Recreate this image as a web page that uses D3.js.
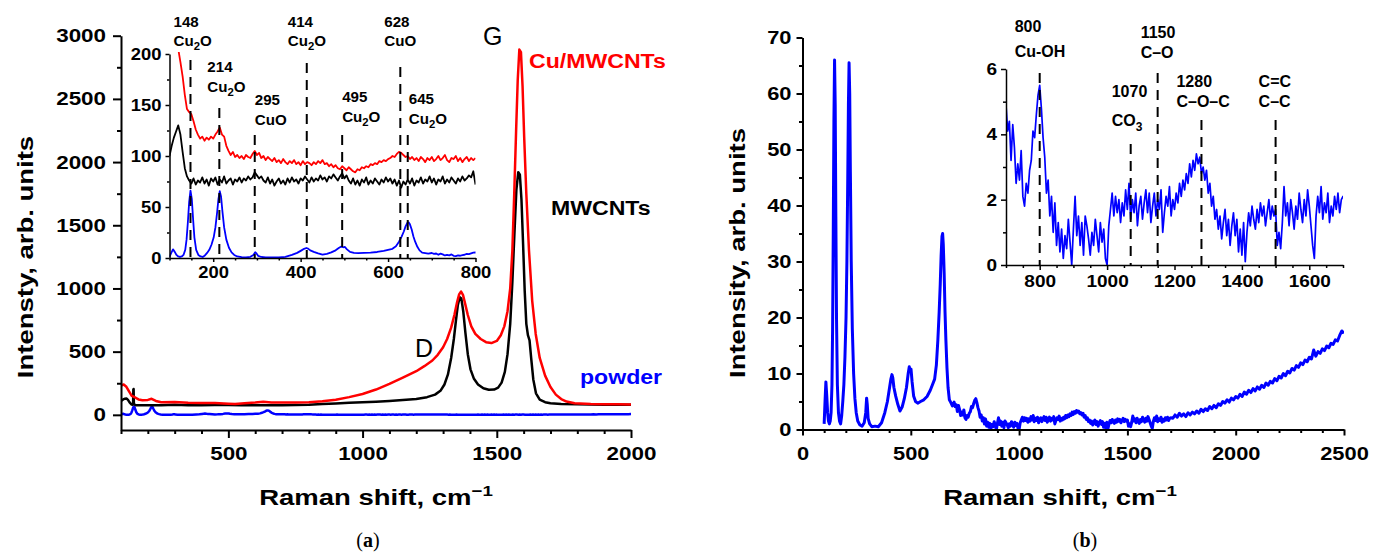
<!DOCTYPE html>
<html>
<head>
<meta charset="utf-8">
<script src="https://cdnjs.cloudflare.com/ajax/libs/d3/7.8.5/d3.min.js"></script>
<style>
  body { margin: 0; background: #fff; }
  svg { display: block; }
</style>
</head>
<body>
<div id="container"></div>
<script>
/* DATA */

// (a) main spectra, [Raman shift cm-1, intensity]
const cuMwcntA = [
  [100,232],[110,240],[120,222],[130,185],[140,150],[150,141],[165,122],[180,116],[200,118],[214,127],
  [230,110],[250,100],[300,102],[350,96],[400,93],[450,94],[500,88],[525,85],[560,91],[600,97],
  [630,103],[660,97],[700,98],[750,98],[800,100],[850,108],[900,120],[950,140],[1000,165],[1050,200],
  [1100,245],[1150,295],[1200,345],[1230,385],[1260,430],[1280,475],[1300,535],[1315,600],[1330,690],[1342,790],
  [1352,890],[1360,955],[1367,975],[1374,950],[1382,880],[1392,790],[1405,700],[1420,640],[1440,600],[1460,575],
  [1480,568],[1500,585],[1515,630],[1528,700],[1540,820],[1550,1000],[1558,1300],[1565,1750],[1572,2250],[1578,2650],
  [1584,2890],[1590,2870],[1596,2600],[1602,2200],[1610,1750],[1620,1300],[1632,900],[1645,640],[1660,450],[1680,310],
  [1700,220],[1720,160],[1740,125],[1760,105],[1790,92],[1850,86],[1900,84],[1950,83],[2000,82]
];
const mwcntA = [
  [100,110],[108,122],[115,128],[120,130],[126,118],[132,98],[138,84],[143,80],[145,82],[146,200],
  [147,205],[148,85],[155,76],[200,76],[250,76],[300,80],[350,76],[400,76],[450,78],[500,78],
  [550,75],[600,75],[650,76],[700,76],[750,78],[800,80],[850,85],[900,90],[950,95],[1000,100],
  [1050,104],[1100,110],[1150,118],[1200,126],[1240,140],[1270,160],[1290,190],[1305,240],[1318,320],[1330,450],
  [1340,600],[1348,750],[1355,870],[1362,930],[1368,920],[1375,820],[1383,650],[1392,480],[1402,360],[1415,285],
  [1430,240],[1450,210],[1470,198],[1490,200],[1505,215],[1518,255],[1530,340],[1540,480],[1550,720],[1558,1050],
  [1566,1450],[1573,1780],[1580,1920],[1586,1900],[1592,1700],[1598,1350],[1604,980],[1610,720],[1616,630],[1622,590],
  [1628,450],[1636,280],[1646,170],[1660,120],[1680,100],[1700,92],[1740,86],[1800,84],[1900,80],[2000,80]
];

// inset of (a): 100-800 cm-1, every 5 cm-1
const insetAShift = d3.range(100, 801, 5);
const insetCuMwcnt = [
  240,236,232,222,205,192,178,160,146,143,
  141,134,126,121,117,119,115,118,116,119,
  117,121,124,128,121,119,110,105,101,104,
  99,101,98,100,97,101,99,98,102,105,
  101,103,98,100,96,99,97,95,98,94,
  96,93,97,94,92,95,93,96,92,94,
  91,95,92,94,93,91,94,92,95,93,
  96,92,93,90,92,89,91,88,87,90,
  88,86,89,87,85,84,87,86,89,88,
  90,89,92,91,93,92,95,94,96,95,
  97,98,100,99,102,104,103,101,99,100,
  97,99,96,98,95,99,97,94,98,96,
  99,95,97,100,96,98,101,96,94,98,
  97,100,95,98,94,97,99,95,98,96,
  98
];
const insetMwcnt = [
  100,110,118,124,130,121,104,88,80,76,
  73,78,72,76,74,79,73,77,71,78,
  75,79,72,77,74,80,73,76,78,72,
  77,75,79,74,78,76,80,77,79,84,
  81,78,80,76,74,79,73,77,71,75,
  78,73,76,72,78,74,79,75,77,73,
  78,76,80,77,74,79,75,78,76,81,
  77,79,75,80,78,82,79,76,80,83,
  78,81,76,73,78,72,76,71,77,74,
  79,72,76,73,78,75,72,77,74,79,
  75,78,73,77,71,76,69,75,72,77,
  73,78,71,76,74,79,73,77,75,80,
  74,78,72,77,75,80,73,77,74,79,
  76,73,78,75,80,76,78,81,79,85,
  72
];

// powder spectrum (blue in (a), whole of (b)), [shift, intensity], 100-692
const powderLow = [
  [100,1],[104,5],[108,8.5],[112,6],[116,3],[120,1.5],[124,1],[128,1.5],[132,3],[136,8],
  [139,18],[142,35],[145,55],[148,66],[151,58],[154,38],[157,20],[161,8],[166,3],[171,1.5],
  [176,1],[181,2.5],[186,5],[191,8],[196,13],[201,20],[205,30],[209,45],[212,58],[215,65.5],
  [218,60],[221,46],[225,30],[230,18],[236,10],[242,5.5],[248,3],[255,1.5],[265,0.8],[275,0.6],
  [285,1.2],[292,3],[296,5.6],[299,4.5],[303,2],[310,1],[320,0.5],[335,0.6],[350,0.5],[365,1.2],
  [380,3],[392,5],[402,7.5],[408,9],[413,9.8],[417,9.2],[422,7.5],[430,6],[440,4.5],[450,3.3],
  [460,4],[470,5.5],[480,7.5],[488,10],[493,11.2],[497,10.5],[501,10.8],[506,8.5],[513,6],[522,5],
  [532,4.7],[545,5],[560,5.3],[575,5.9],[590,7],[600,8],[610,9],[618,11.5],[625,16],[631,21],
  [636,26],[640,31],[644,34.5],[647,35],[650,33],[654,28],[658,21],[662,16],[667,11],[672,7.5],
  [678,5.3],[685,4.8],[692,4.2]
];
// powder 700-1700, every 5 cm-1 (inset of (b))
const powderMidShift = d3.range(700, 1701, 5);
const powderMid = [
  4.9,4.1,4.4,3.2,4.3,3.6,2.5,3.1,2.6,3.5,
  2.1,1.8,2.5,2.2,2.9,3.2,4.1,3.9,4.6,5.2,
  5.5,4.8,3.9,3.3,2.2,2.6,1.5,2.1,1.0,1.9,
  0.6,1.3,0.4,1.1,0.2,0.9,0.5,1.4,0.7,0.0,
  1.1,2.1,0.9,1.5,0.6,1.3,0.3,1.5,1.2,0.8,
  0.3,1.0,0.6,1.4,0.9,0.4,1.3,0.7,1.1,0.2,
  0.0,1.2,1.7,2.2,1.5,2.1,1.6,2.0,1.3,1.9,
  1.5,2.3,1.7,2.5,1.4,2.0,1.6,2.2,1.2,1.8,
  2.1,1.4,1.9,2.3,1.6,2.2,1.3,1.8,2.2,1.5,
  2.0,1.7,2.3,1.0,1.6,2.1,1.8,2.4,1.5,2.0,
  1.7,2.2,1.9,2.5,2.1,2.6,2.3,2.8,2.5,3.1,
  2.7,3.2,2.9,3.4,3.1,3.3,2.8,3.0,2.6,2.9,
  2.2,2.5,1.8,2.1,1.4,1.7,1.1,1.5,0.8,1.3,
  1.7,0.9,1.4,0.6,1.2,1.6,0.9,1.4,0.4,1.1,
  0.3,1.3,0.1,1.0,1.6,1.2,1.8,1.4,1.1,1.7,
  1.3,1.9,1.5,1.8,1.2,1.6,2.0,1.4,1.8,1.5,
  1.7,0.6,1.0,0.5,1.3,2.4,1.5,1.9,1.2,2.0,
  1.6,1.1,1.8,1.4,2.2,1.7,1.3,2.0,1.5,2.3,
  1.8,1.2,0.6,0.2,1.5,2.1,1.6,2.4,1.4,1.9,
  1.6,2.2,1.3,1.8,1.5,2.1,1.7,2.2,1.6,2.0,
  2.1
];
// powder 1710-2500, every 10 cm-1
const powderHighShift = d3.range(1710, 2501, 10);
const powderHigh = [
  2.0,2.6,2.2,2.9,2.4,2.8,2.3,3.0,2.6,3.1,
  2.8,3.3,2.9,3.6,3.2,3.7,3.4,4.1,3.7,4.3,
  3.9,4.6,4.3,5.0,4.7,5.3,4.9,5.6,5.3,5.9,
  5.6,6.3,5.9,6.7,6.3,7.0,6.6,7.3,6.9,7.6,
  7.2,7.9,7.5,8.3,7.9,8.6,8.3,9.1,8.7,9.5,
  9.2,10.0,9.6,10.4,10.1,10.9,10.6,11.4,11.1,11.9,
  11.6,12.4,12.1,12.9,12.6,14.2,13.1,13.9,13.6,14.4,
  14.1,14.9,14.6,15.4,15.2,16.0,15.8,16.8,17.6,17.2
];

// peak assignments
const peaksA = [148, 214, 295, 414, 495, 628, 645];
const phasesA = ["Cu2O", "Cu2O", "CuO", "Cu2O", "Cu2O", "CuO", "Cu2O"];
const peaksB = [800, 1070, 1150, 1280, 1500];
const headsB = ["800", "1070", "1150", "1280", "C=C"];
const bondsB = ["Cu-OH", "CO3", "C–O", "C–O–C", "C–C"];

// ticks
const mainAYMajor = [0, 500, 1000, 1500, 2000, 2500, 3000];
const mainAYMinor = [250, 750, 1250, 1750, 2250, 2750];
const mainAXMajor = [500, 1000, 1500, 2000];
const mainAXMinor = [100, 200, 300, 400, 600, 700, 800, 900, 1100, 1200, 1300, 1400, 1600, 1700, 1800, 1900];
const insetAYMajor = [0, 50, 100, 150, 200];
const insetAYMinor = [25, 75, 125, 175];
const insetAXMajor = [200, 400, 600, 800];
const insetAXMinor = [100, 150, 250, 300, 350, 450, 500, 550, 650, 700, 750];
const mainBYMajor = [0, 10, 20, 30, 40, 50, 60, 70];
const mainBYMinor = [5, 15, 25, 35, 45, 55, 65];
const mainBXMajor = [0, 500, 1000, 1500, 2000, 2500];
const mainBXMinor = [100, 200, 300, 400, 600, 700, 800, 900, 1100, 1200, 1300, 1400, 1600, 1700, 1800, 1900, 2100, 2200, 2300, 2400];
const insetBYMajor = [0, 2, 4, 6];
const insetBYMinor = [1, 3, 5];
const insetBXMajor = [800, 1000, 1200, 1400, 1600];
const insetBXMinor = [700, 750, 850, 900, 950, 1050, 1100, 1150, 1250, 1300, 1350, 1450, 1500, 1550, 1650, 1700];

/* SETUP */
const width = 1384, height = 553;
const FONT = "'Liberation Sans', Arial, Helvetica, sans-serif";

const svg = d3.select("#container").append("svg")
  .attr("width", width)
  .attr("height", height);

const powder = powderLow
  .concat(powderMidShift.map((s, i) => [s, powderMid[i]]))
  .concat(powderHighShift.map((s, i) => [s, powderHigh[i]]));
const insetRed = insetAShift.map((s, i) => [s, insetCuMwcnt[i]]);
const insetBlack = insetAShift.map((s, i) => [s, insetMwcnt[i]]);

// scales
const xA = d3.scaleLinear().domain([100, 2000]).range([121, 631]);
const yA = d3.scaleLinear().domain([-120, 3000]).range([430, 35.7]);
const xIA = d3.scaleLinear().domain([100, 800]).range([169.5, 475.5]);
const yIA = d3.scaleLinear().domain([0, 200]).range([258, 54]);
const xB = d3.scaleLinear().domain([0, 2500]).range([802.5, 1344]);
const yB = d3.scaleLinear().domain([0, 70]).range([429.5, 37.5]);
const xIB = d3.scaleLinear().domain([700, 1700]).range([1006, 1343]);
const yIB = d3.scaleLinear().domain([0, 6]).range([265, 69]);

// stretch text horizontally around its anchor point
function widen(sel, k) {
  sel.attr("transform", function () {
    const x = +this.getAttribute("x") || 0, y = +this.getAttribute("y") || 0;
    return `translate(${x},${y}) scale(${k},1) translate(${-x},${-y})`;
  });
}

function clip(id, x, y) {
  const [x0, x1] = x.range(), [y0, y1] = y.range();
  svg.append("clipPath").attr("id", id).append("rect")
    .attr("x", x0).attr("y", y1 - 2)
    .attr("width", x1 - x0).attr("height", y0 - y1 + 5);
}

function spectrum(data, x, y, color, w, clipId) {
  svg.append("path")
    .datum(data)
    .attr("clip-path", `url(#${clipId})`)
    .attr("fill", "none")
    .attr("stroke", color)
    .attr("stroke-width", w)
    .attr("stroke-linejoin", "round")
    .attr("d", d3.line().x(d => x(d[0])).y(d => y(d[1])));
}

function axis(orient, scale, at, major, minor, o) {
  const make = orient === "left" ? d3.axisLeft : d3.axisBottom;
  const g = svg.append("g")
    .attr("transform", orient === "left" ? `translate(${at},0)` : `translate(0,${at})`);
  g.append("g")
    .call(make(scale).tickValues(minor).tickSize(o.minor).tickFormat(""))
    .call(s => s.select(".domain").remove());
  g.append("g")
    .call(make(scale).tickValues(major).tickSize(o.major).tickSizeOuter(0)
      .tickPadding(o.pad).tickFormat(d3.format("d")));
  g.selectAll("path, line").attr("stroke", "#000").attr("stroke-width", o.sw);
  const t = g.selectAll("text")
    .attr("font-family", FONT)
    .attr("font-size", o.fs)
    .attr("font-weight", "bold")
    .attr("fill", "#000");
  widen(t, o.k);
}

// label text; digits that follow a letter become subscripts (Cu2O, CO3)
function label(x, y, str, size) {
  const t = svg.append("text")
    .attr("x", x).attr("y", y)
    .attr("font-family", FONT).attr("font-size", size)
    .attr("font-weight", "bold");
  const parts = /[A-Za-z]/.test(str) ? str.split(/(\d)/).filter(p => p) : [str];
  let down = false;
  parts.forEach(p => {
    if (/^\d$/.test(p) && parts.length > 1) {
      t.append("tspan").attr("dy", size * 0.3).attr("font-size", size * 0.75).text(p);
      down = true;
    } else {
      t.append("tspan").attr("dy", down ? -size * 0.3 : 0).text(p);
      down = false;
    }
  });
  return t;
}

function dash(x, y0, y1) {
  svg.append("line")
    .attr("x1", x).attr("x2", x).attr("y1", y0).attr("y2", y1)
    .attr("stroke", "#000").attr("stroke-width", 2)
    .attr("stroke-dasharray", "10,7");
}

function title(x, y, str, rotate) {
  const g = svg.append("g").attr("transform", `translate(${x},${y})` + (rotate ? " rotate(-90)" : ""));
  const t = g.append("text")
    .attr("text-anchor", "middle")
    .attr("font-family", FONT).attr("font-size", 22).attr("font-weight", "bold")
    .attr("transform", "scale(1.25,1)");
  if (rotate) {
    t.text(str);
  } else {
    t.append("tspan").text(str);
    t.append("tspan").attr("dy", -9).attr("font-size", 15).text("−1");
  }
}

/* PANEL (a) */
clip("clipA", xA, yA);
clip("clipIA", xIA, yIA);
spectrum(powder, xA, yA, "#0000ff", 2.5, "clipA");
spectrum(mwcntA, xA, yA, "#000", 2.5, "clipA");
spectrum(cuMwcntA, xA, yA, "#ff0000", 2.5, "clipA");

axis("left", yA, 121, mainAYMajor, mainAYMinor, { major: 8, minor: 4, pad: 7, sw: 2, fs: 19, k: 1.18 });
axis("bottom", xA, 430, mainAXMajor, mainAXMinor, { major: 8, minor: 4, pad: 9, sw: 2, fs: 19, k: 1.18 });

// inset (a)
spectrum(powder, xIA, yIA, "#0000ff", 1.8, "clipIA");
spectrum(insetBlack, xIA, yIA, "#000", 1.8, "clipIA");
spectrum(insetRed, xIA, yIA, "#ff0000", 1.8, "clipIA");
axis("left", yIA, 169.5, insetAYMajor, insetAYMinor, { major: 4, minor: 2.5, pad: 4, sw: 1.5, fs: 16, k: 1.15 });
axis("bottom", xIA, 258, insetAXMajor, insetAXMinor, { major: 4, minor: 2.5, pad: 5, sw: 1.5, fs: 16, k: 1.15 });

// peak labels of the inset (a): number baseline, phase baseline, dash top, text offset
const markANum = [27, 72, 105, 27, 102, 27, 104];
const markAPhase = [46, 92, 125, 46, 122, 46, 124];
const markATop = [60, 108, 135, 63, 135, 67, 135];
const markADx = [-17, -12, 0, -19, 0, -16, 1];
peaksA.forEach((p, i) => {
  dash(xIA(p), markATop[i], yIA(0));
  widen(label(xIA(p) + markADx[i], markANum[i], String(p), 14), 1.08);
  widen(label(xIA(p) + markADx[i], markAPhase[i], phasesA[i], 14), 1.08);
});

// band and sample labels
svg.append("text").attr("x", 483).attr("y", 45)
  .attr("font-family", FONT).attr("font-size", 25).text("G");
svg.append("text").attr("x", 415).attr("y", 357)
  .attr("font-family", FONT).attr("font-size", 25).text("D");
const sampleNames = ["Cu/MWCNTs", "MWCNTs", "powder"];
const sampleColors = ["#ff0000", "#000", "#0000ff"];
const sampleX = [529, 551, 580], sampleY = [68, 215, 384];
sampleNames.forEach((n, i) => {
  const t = svg.append("text").attr("x", sampleX[i]).attr("y", sampleY[i])
    .attr("font-family", FONT).attr("font-size", 21).attr("font-weight", "bold")
    .attr("fill", sampleColors[i]).text(n);
  widen(t, 1.1);
});

title(376, 505, "Raman shift, cm", false);
title(33, 257, "Intensty, arb. units", true);

/* PANEL (b) */
clip("clipB", xB, yB);
clip("clipIB", xIB, yIB);
spectrum(powder, xB, yB, "#0000ff", 3, "clipB");
axis("left", yB, 802.5, mainBYMajor, mainBYMinor, { major: 6, minor: 3.5, pad: 5, sw: 2, fs: 19, k: 1.15 });
axis("bottom", xB, 429.5, mainBXMajor, mainBXMinor, { major: 6, minor: 3.5, pad: 11, sw: 2, fs: 19, k: 1.15 });

// inset (b)
spectrum(powder, xIB, yIB, "#0000ff", 1.7, "clipIB");
axis("left", yIB, 1006, insetBYMajor, insetBYMinor, { major: 5, minor: 3, pad: 4, sw: 1.5, fs: 17, k: 1.12 });
axis("bottom", xIB, 265, insetBXMajor, insetBXMinor, { major: 5, minor: 3, pad: 5, sw: 1.5, fs: 17, k: 1.12 });

const markBHead = [32, 97, 38, 87, 87];
const markBBond = [57, 126, 58, 107, 107];
const markBTop = [73, 144, 73, 120, 120];
const markBDx = [-25, -19, -17, -25, -17];
peaksB.forEach((p, i) => {
  dash(xIB(p), markBTop[i], yIB(0));
  label(xIB(p) + markBDx[i], markBHead[i], headsB[i], 16);
  label(xIB(p) + markBDx[i], markBBond[i], bondsB[i], 16);
});

title(1060, 505, "Raman shift, cm", false);
title(745, 253, "Intensity, arb. units", true);

/* sub-figure captions */
[["a", 368], ["b", 1085]].forEach(([c, x]) => {
  const t = svg.append("text").attr("x", x).attr("y", 547)
    .attr("text-anchor", "middle")
    .attr("font-family", "'Liberation Serif', 'DejaVu Serif', serif").attr("font-size", 20);
  t.append("tspan").text("(");
  t.append("tspan").attr("font-weight", "bold").text(c);
  t.append("tspan").text(")");
});
</script>
</body>
</html>
